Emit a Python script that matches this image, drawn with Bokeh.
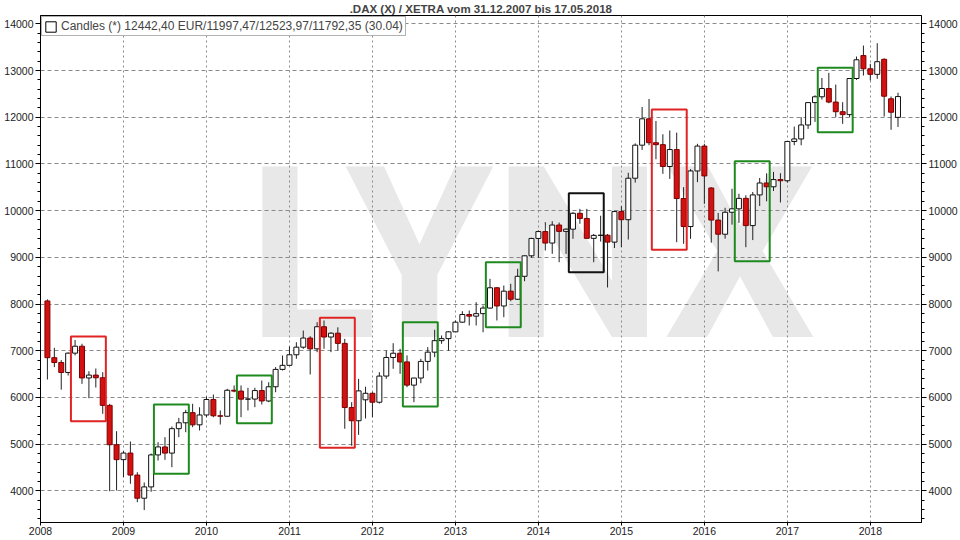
from bokeh.plotting import figure
from bokeh.models import (ColumnDataSource, Range1d, FixedTicker, LinearAxis, Legend,
                          LegendItem, Label)
from bokeh.embed import file_html
from bokeh.resources import INLINE

# ---------------- data (monthly candles, Jan 2008 .. Apr 2018) ----------------
opens = [8067, 6852, 6748, 6535, 6949, 7097, 6418, 6479, 6422, 5831, 4988, 4669,
         4810, 4338, 3843, 4085, 4770, 4941, 4809, 5332, 5458, 5675, 5414, 5625,
         5957, 5608, 5598, 6154, 6136, 5964, 5966, 6148, 5925, 6229, 6601, 6688,
         6914, 7077, 7273, 7041, 7514, 7294, 7376, 7158, 5784, 5502, 5950, 6089,
         5898, 6458, 6856, 6947, 6761, 6264, 6416, 6772, 6970, 7216, 7260, 7405,
         7612, 7776, 7741, 7795, 7914, 8349, 7959, 8276, 8103, 8594, 9033, 9405,
         9552, 9306, 9692, 9556, 9603, 9943, 9833, 9407, 9470, 9474, 9326, 9980,
         9806, 10694, 11402, 11966, 11454, 11413, 10945, 11308, 10259, 9660, 10850, 11382,
         10485, 9798, 9495, 9965, 10039, 10263, 9680, 10337, 10592, 10511, 10665, 10640,
         11481, 11535, 11834, 12313, 12438, 12615, 12325, 12118, 12056, 12829, 13320, 13037,
         12918, 13240, 12394, 11997.47]
highs = [8100, 7063, 6800, 6964, 7231, 7150, 6562, 6620, 6541, 5864, 5278, 4850,
         5057, 4400, 4179, 4800, 5043, 5150, 5378, 5563, 5735, 5864, 5791, 6021,
         6063, 5721, 6185, 6257, 6257, 6207, 6207, 6363, 6327, 6650, 6898, 7091,
         7183, 7433, 7312, 7611, 7648, 7397, 7502, 7255, 5900, 6398, 6230, 6113,
         6541, 7005, 7162, 7042, 6900, 6420, 6827, 7077, 7449, 7327, 7418, 7648,
         7847, 7862, 8040, 7968, 8540, 8360, 8397, 8433, 8755, 9039, 9418, 9574,
         9753, 9774, 9745, 9620, 9968, 10037, 10037, 9500, 9891, 9500, 10000, 10093,
         10810, 11440, 12219, 12390, 11920, 11635, 11716, 11670, 10503, 10888, 11431, 11431,
         10503, 9950, 10061, 10468, 10360, 10330, 10400, 10700, 10800, 10830, 10800, 11490,
         11800, 12000, 12320, 12470, 12840, 12950, 12700, 12322, 12840, 13300, 13535, 13143,
         13585, 13260, 12444, 12523.97]
lows = [6384, 6650, 6167, 6470, 6900, 6292, 5984, 6213, 5650, 3993, 4008, 4293,
        4152, 3757, 3589, 3980, 4650, 4665, 4507, 5150, 5256, 5364, 5293, 5578,
        5578, 5421, 5590, 6113, 5578, 5721, 5792, 5850, 5900, 6112, 6577, 6684,
        6828, 7042, 6492, 6969, 7042, 6970, 7005, 5330, 4966, 5200, 5550, 5578,
        5870, 6400, 6614, 6507, 6220, 5899, 6305, 6577, 6862, 7149, 7000, 7400,
        7600, 7541, 7541, 7397, 7900, 7648, 7719, 8060, 8091, 8489, 8991, 8991,
        9147, 9076, 8896, 9074, 9397, 9718, 9397, 8896, 9338, 8355, 9200, 9219,
        9382, 10600, 11300, 11400, 11100, 10788, 10680, 9324, 9290, 9397, 10610, 10146,
        9314, 8699, 9400, 9700, 9737, 9217, 9370, 10100, 10200, 10420, 10175, 10600,
        11400, 11400, 11750, 11900, 12380, 12300, 12000, 11859, 12000, 12800, 12893, 12786,
        12822, 12015, 11731, 11792.35]
closes = [6852, 6748, 6535, 6949, 7097, 6418, 6479, 6422, 5831, 4988, 4669, 4810,
          4338, 3843, 4085, 4770, 4941, 4809, 5332, 5458, 5675, 5414, 5625, 5957,
          5608, 5598, 6154, 6136, 5964, 5966, 6148, 5925, 6229, 6601, 6688, 6914,
          7077, 7273, 7041, 7514, 7294, 7376, 7158, 5784, 5502, 6141, 6089, 5898,
          6458, 6856, 6947, 6761, 6264, 6416, 6772, 6970, 7216, 7260, 7405, 7612,
          7776, 7741, 7795, 7914, 8349, 7959, 8276, 8103, 8594, 9033, 9405, 9552,
          9306, 9692, 9556, 9603, 9943, 9833, 9407, 9470, 9474, 9326, 9980, 9806,
          10694, 11402, 11966, 11454, 11413, 10945, 11308, 10259, 9660, 10850, 11382, 10743,
          9798, 9495, 9965, 10039, 10263, 9680, 10337, 10592, 10511, 10665, 10640, 11481,
          11535, 11834, 12313, 12438, 12615, 12325, 12118, 12056, 12829, 13230, 13037, 12918,
          13189, 12450, 12107, 12442.40]

years = ["2008", "2009", "2010", "2011", "2012", "2013", "2014", "2015", "2016", "2017", "2018"]
y_ticks = [4000, 5000, 6000, 7000, 8000, 9000, 10000, 11000, 12000, 13000, 14000]

# "Sell in May" boxes: first month index, last month index, low, high, colour
box_first = [4, 16, 28, 40, 52, 64, 76, 88, 100, 112]
box_last = [8, 20, 32, 44, 56, 68, 80, 92, 104, 116]
box_low = [5490, 4366, 5450, 4922, 5807, 7504, 8682, 9161, 8917, 11679]
box_high = [7305, 5849, 6470, 7705, 7611, 8896, 10373, 12165, 11058, 13058]
box_color = ["#e02424", "#1e8a1e", "#1e8a1e", "#e02424", "#1e8a1e", "#1e8a1e",
             "#111111", "#e02424", "#1e8a1e", "#1e8a1e"]

title_text = ".DAX (X) / XETRA vom 31.12.2007 bis 17.05.2018"
legend_text = "Candles (*) 12442,40 EUR/11997,47/12523,97/11792,35 (30.04)"

# ---------------- build ----------------
n = len(opens)
xpos = [i + 1 for i in range(n)]          # candle plotted at month end
up = [c >= o for o, c in zip(opens, closes)]
src = ColumnDataSource(dict(
    x=xpos, high=highs, low=lows,
    top=[max(o, c) for o, c in zip(opens, closes)],
    bottom=[min(o, c) for o, c in zip(opens, closes)],
    fill=["#ffffff" if u else "#d41010" for u in up],
    line=["#111111" if u else "#7a0000" for u in up],
))

p = figure(width=960, height=540, x_range=Range1d(0, 127.4), y_range=Range1d(3323, 14178),
           output_backend="svg", toolbar_location=None,
           min_border_left=40, min_border_right=38, min_border_top=14, min_border_bottom=18,
           background_fill_color="white", border_fill_color="white")

p.title.text = title_text
p.title.align = "center"
p.title.text_font = "Liberation Sans"
p.title.text_font_size = "11.5px"
p.title.text_font_style = "bold"
p.title.standoff = 1
p.title.offset = 0

p.outline_line_color = "#000000"
p.outline_line_width = 1

# watermark
wm = Label(x=71.0, y=9040, text="LYNX", text_font="Roboto",
           text_font_size="239px", text_font_style="bold", text_color="#e8e8e8",
           text_align="center", text_baseline="alphabetic", level="image")
p.add_layout(wm)

# axes
p.xaxis.ticker = FixedTicker(ticks=[12 * i for i in range(len(years))])
p.xaxis.major_label_overrides = {12 * i: y for i, y in enumerate(years)}
p.xaxis.major_label_text_align = "left"
p.xaxis.major_tick_out = 3
p.xaxis.major_tick_in = 0
p.xaxis.minor_tick_out = 0
p.xaxis.major_label_standoff = 1

yt = FixedTicker(ticks=y_ticks, minor_ticks=list(range(3400, 14200, 200)))
p.yaxis.ticker = yt
right = LinearAxis(ticker=yt)
p.add_layout(right, "right")

for ax in [p.xaxis[0], p.yaxis[0], right]:
    ax.axis_line_color = "#000000"
    ax.major_tick_line_color = "#000000"
    ax.minor_tick_line_color = "#000000"
    ax.major_label_text_font = "Liberation Sans"
    ax.major_label_text_font_size = "10.5px"
    ax.major_label_text_color = "#222222"
for ax in [p.yaxis[0], right]:
    ax.major_tick_out = 5
    ax.major_tick_in = 0
    ax.minor_tick_out = 3
    ax.minor_tick_in = 0
    ax.major_label_standoff = 2

p.xgrid.ticker = p.xaxis[0].ticker
p.xgrid.grid_line_color = "#8a8a8a"
p.xgrid.grid_line_dash = "2 3"
p.ygrid.grid_line_color = "#8a8a8a"
p.ygrid.grid_line_dash = "4 3"

# candles
p.segment(x0="x", y0="low", x1="x", y1="high", source=src, line_color="#222222", line_width=1)
p.vbar(x="x", width=0.72, top="top", bottom="bottom", source=src,
       fill_color="fill", line_color="line", line_width=1)

# boxes
bsrc = ColumnDataSource(dict(
    left=[f + 1 - 0.6 for f in box_first],
    right=[l + 1 + 0.45 for l in box_last],
    bottom=box_low, top=box_high, color=box_color))
p.quad(left="left", right="right", bottom="bottom", top="top", source=bsrc,
       fill_alpha=0, line_color="color", line_width=2)

# legend (icon renderer sits outside the visible range)
dummy = p.quad(left=[-60], right=[-50], bottom=[0], top=[10], fill_color="white",
               line_color="black", line_width=1)
legend = Legend(items=[LegendItem(label=legend_text, renderers=[dummy])],
                location="top_left", margin=1, padding=2, spacing=0,
                glyph_width=13, glyph_height=13, label_height=13, label_standoff=4,
                label_text_font="Liberation Sans", label_text_font_size="12px",
                border_line_color="#666666", border_line_width=1,
                background_fill_color="white", background_fill_alpha=1)
p.add_layout(legend)

open("out.html", "w").write(file_html(p, INLINE))
